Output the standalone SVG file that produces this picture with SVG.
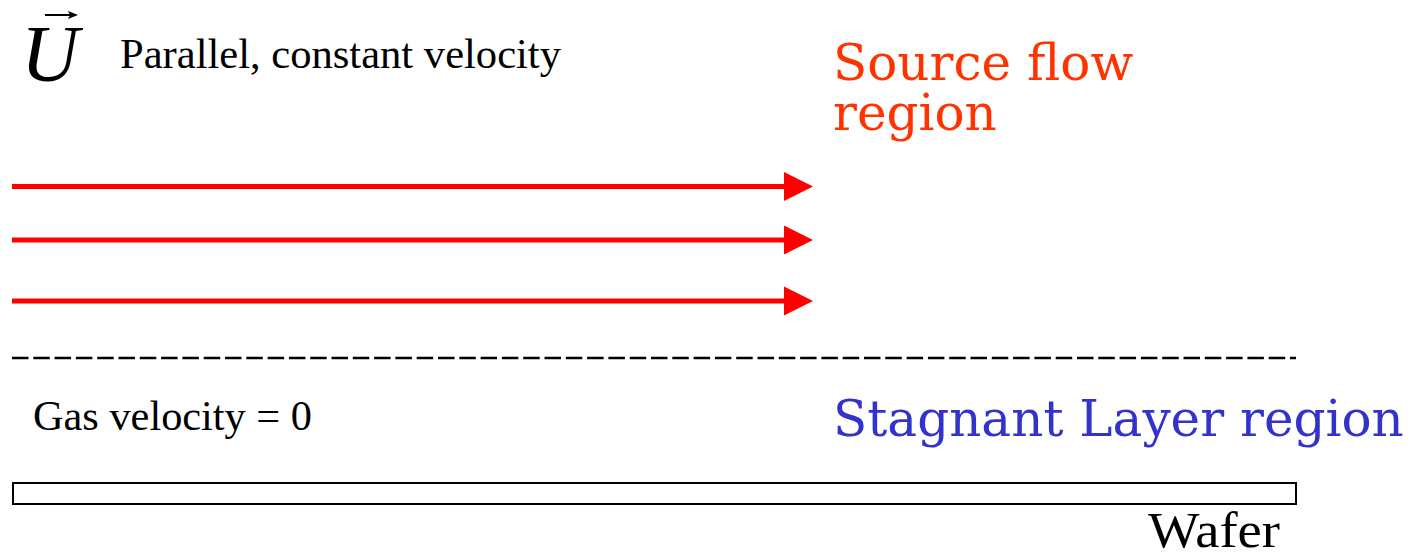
<svg xmlns="http://www.w3.org/2000/svg" width="1412" height="557" viewBox="0 0 1412 557">
  <style>
    .times { font-family: "Liberation Serif", "Times New Roman", serif; fill: #000; }
    .region { font-family: "DejaVu Serif", serif; font-size: 50px; }
    .flow { stroke: #FF0000; stroke-width: 5; fill: none; }
    .head { fill: #FF0000; }
  </style>
  <rect x="0" y="0" width="1412" height="557" fill="#fff"/>

  <g id="velocity-symbol">
    <text class="times" x="21" y="81" font-size="80" font-style="italic">U</text>
    <line x1="45" y1="15" x2="74" y2="15" stroke="#000" stroke-width="2"/>
    <polygon points="78,15 68,11 70,15 68,19" fill="#000"/>
  </g>

  <g id="label-parallel">
    <text class="times" x="120" y="68" font-size="42" textLength="441" lengthAdjust="spacingAndGlyphs">Parallel, constant velocity</text>
  </g>

  <g id="label-source">
    <text class="region" x="833" y="80" fill="#FF3300">Source flow</text>
    <text class="region" x="833" y="130" fill="#FF3300">region</text>
  </g>

  <g id="connectors">
    <line class="flow" x1="12" y1="186.5" x2="786" y2="186.5"/>
    <polygon class="head" points="784,172 813,186.5 784,201"/>
    <line class="flow" x1="12" y1="240" x2="786" y2="240"/>
    <polygon class="head" points="784,225.5 813,240 784,254.5"/>
    <line class="flow" x1="12" y1="301" x2="786" y2="301"/>
    <polygon class="head" points="784,286.5 813,301 784,315.5"/>
  </g>

  <g id="boundary">
    <line x1="12" y1="358" x2="1296" y2="358" stroke="#000" stroke-width="2.5" stroke-dasharray="16.5 4.8"/>
  </g>

  <g id="label-gas">
    <text class="times" x="33" y="430" font-size="42" textLength="279" lengthAdjust="spacingAndGlyphs">Gas velocity = 0</text>
  </g>

  <g id="label-stagnant">
    <text class="region" x="833" y="436" fill="#3333CC">Stagnant Layer region</text>
  </g>

  <g id="wafer">
    <rect x="13" y="483" width="1283" height="21" fill="#fff" stroke="#000" stroke-width="2"/>
    <text class="times" x="1148" y="547" font-size="51" textLength="132" lengthAdjust="spacingAndGlyphs">Wafer</text>
  </g>
</svg>
